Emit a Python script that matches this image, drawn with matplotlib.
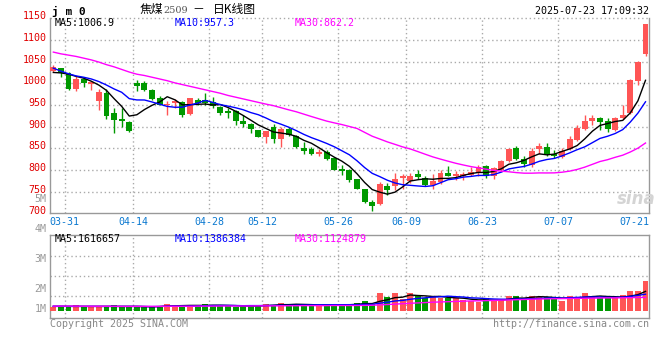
import matplotlib
matplotlib.use("Agg")
import matplotlib.pyplot as plt
from matplotlib.transforms import blended_transform_factory, offset_copy

# jm0 daily candles, 2025-03-28 .. 2025-07-23 (one entry per trading day)
opens = [1029, 1035, 1023, 987, 1011, 999, 960, 978, 932, 917,
         911, 1001, 1001, 984, 967, 949, 954, 958, 929, 961,
         961, 957, 946, 936, 936, 914, 907, 892, 877, 900,
         871, 894, 878, 851, 848, 837, 842, 828, 802, 800,
         779, 756, 727, 721, 764, 764, 781, 775, 791, 782,
         765, 773, 794, 785, 786, 788, 792, 808, 785, 800,
         821, 850, 825, 812, 848, 852, 836, 831, 848, 869,
         895, 912, 921, 914, 892, 919, 932, 1006, 1068]
highs = [1042, 1036, 1025, 1016, 1013, 1004, 988, 988, 944, 942,
         913, 1007, 1006, 988, 970, 959, 963, 960, 967, 967,
         977, 969, 948, 942, 938, 927, 909, 893, 891, 906,
         900, 900, 880, 865, 854, 848, 846, 830, 811, 802,
         780, 757, 731, 773, 769, 794, 791, 794, 800, 785,
         791, 800, 809, 798, 796, 808, 812, 812, 808, 823,
         850, 855, 832, 850, 863, 862, 846, 850, 878, 904,
         927, 928, 923, 919, 922, 950, 1010, 1052, 1138]
lows = [1025, 1015, 984, 983, 992, 985, 938, 917, 885, 900,
        888, 983, 982, 961, 949, 927, 944, 923, 927, 950,
        950, 942, 926, 919, 904, 900, 886, 876, 863, 863,
        852, 879, 851, 838, 834, 832, 824, 799, 788, 773,
        755, 724, 706, 719, 742, 754, 755, 770, 779, 762,
        757, 768, 785, 778, 777, 785, 785, 781, 779, 798,
        819, 822, 808, 808, 836, 832, 827, 827, 846, 868,
        892, 904, 892, 888, 891, 917, 929, 997, 1062]
closes = [1038, 1024, 986, 1010, 1001, 1003, 979, 925, 915, 912,
          891, 994, 985, 964, 950, 952, 959, 927, 965, 955,
          955, 948, 932, 931, 912, 906, 894, 877, 890, 871,
          894, 881, 852, 844, 837, 842, 825, 800, 798, 777,
          756, 725, 718, 768, 754, 779, 785, 786, 783, 765,
          774, 794, 787, 791, 791, 795, 808, 785, 804, 821,
          848, 825, 813, 844, 856, 837, 833, 844, 872, 896,
          914, 921, 911, 894, 919, 927, 1008, 1050, 1137]

ma5 = [1025, 1024, 1021, 1016, 1011.8, 1004.8, 995.8, 983.6, 964.6, 946.8,
       924.4, 927.4, 939.4, 949.2, 956.8, 969.0, 962.0, 950.4, 950.6, 951.6,
       952.2, 950.0, 951.0, 944.2, 935.6, 925.8, 915.0, 904.0, 895.8, 887.6,
       885.2, 882.6, 877.6, 868.4, 861.6, 851.2, 840.0, 829.6, 820.4, 808.4,
       791.2, 771.2, 754.8, 748.8, 744.2, 748.8, 760.8, 774.4, 777.4, 779.6,
       778.6, 780.4, 780.6, 782.2, 787.4, 791.6, 794.4, 794.0, 796.6, 802.6,
       813.2, 816.6, 822.2, 830.2, 837.2, 835.0, 836.6, 842.8, 848.4, 856.4,
       871.8, 889.4, 902.8, 907.2, 911.8, 914.4, 931.8, 959.6, 1006.9]
ma10 = [1035, 1028, 1022, 1017, 1014, 1010, 1004, 996, 987, 979.3,
        964.6, 961.6, 961.5, 956.9, 951.8, 946.7, 944.7, 944.9, 949.9, 954.2,
        960.6, 956.0, 950.7, 947.4, 943.6, 939.0, 932.5, 927.5, 920.0, 911.6,
        905.5, 898.8, 890.8, 882.1, 874.6, 868.2, 861.3, 853.6, 844.4, 835.0,
        821.2, 805.6, 792.2, 784.6, 776.3, 770.0, 766.0, 764.6, 763.1, 761.9,
        763.7, 770.6, 777.5, 779.8, 783.5, 785.1, 787.4, 787.3, 789.4, 795.0,
        802.4, 805.5, 808.1, 813.4, 819.9, 824.1, 826.6, 832.5, 839.3, 846.8,
        853.4, 863.0, 872.8, 877.8, 884.1, 893.1, 910.6, 931.2, 957.3]
ma30 = [1072, 1068, 1065, 1062, 1058, 1054, 1049, 1043, 1038, 1032,
        1026, 1021, 1018, 1014, 1010, 1006, 1001, 997, 993, 989,
        985, 981, 977, 972, 968, 964, 960, 956, 952, 948.4,
        943.6, 938.8, 934.3, 928.8, 923.3, 918.0, 912.8, 908.7, 904.8, 900.3,
        895.8, 886.8, 877.9, 871.4, 864.8, 859.1, 853.3, 848.6, 842.5, 836.2,
        830.1, 825.0, 820.2, 815.5, 811.5, 807.8, 804.9, 801.8, 799.0, 797.3,
        795.8, 793.9, 792.6, 792.6, 793.2, 793.1, 793.3, 794.8, 797.3, 801.2,
        806.5, 813.0, 819.5, 823.7, 829.2, 834.1, 841.5, 850.3, 862.2]

# volume in millions of lots
volumes = [0.35, 0.35, 0.43, 0.51, 0.35, 0.35, 0.35, 0.43, 0.51, 0.35,
           0.35, 0.35, 0.35, 0.43, 0.43, 0.59, 0.43, 0.43, 0.51, 0.43,
           0.59, 0.51, 0.43, 0.43, 0.35, 0.43, 0.51, 0.43, 0.59, 0.51,
           0.67, 0.51, 0.59, 0.51, 0.43, 0.51, 0.51, 0.55, 0.55, 0.55,
           0.67, 0.80, 0.57, 1.46, 1.20, 1.51, 1.00, 1.46, 1.24, 1.06,
           1.24, 1.06, 1.06, 1.06, 0.90, 0.84, 0.78, 1.08, 0.90, 0.90,
           1.24, 1.24, 1.08, 1.24, 1.14, 1.14, 1.00, 0.84, 1.24, 1.14,
           1.51, 1.24, 1.06, 1.06, 1.06, 1.33, 1.65, 1.65, 2.49]
vol_ma5 = [0.40, 0.40, 0.40, 0.40, 0.398, 0.398, 0.398, 0.398, 0.398, 0.398,
           0.398, 0.398, 0.382, 0.366, 0.382, 0.43, 0.446, 0.462, 0.478, 0.478,
           0.478, 0.494, 0.494, 0.478, 0.462, 0.43, 0.43, 0.43, 0.462, 0.494,
           0.542, 0.542, 0.574, 0.558, 0.542, 0.51, 0.51, 0.502, 0.51, 0.534,
           0.566, 0.624, 0.628, 0.81, 0.94, 1.108, 1.148, 1.326, 1.282, 1.254,
           1.2, 1.212, 1.132, 1.096, 1.064, 0.984, 0.928, 0.932, 0.9, 0.9,
           0.98, 1.072, 1.072, 1.14, 1.188, 1.168, 1.12, 1.072, 1.072, 1.072,
           1.146, 1.194, 1.238, 1.202, 1.186, 1.15, 1.232, 1.35, 1.617]
vol_ma10 = [0.41, 0.41, 0.40, 0.40, 0.40, 0.40, 0.40, 0.40, 0.40, 0.398,
            0.398, 0.398, 0.39, 0.382, 0.39, 0.414, 0.422, 0.422, 0.422, 0.43,
            0.454, 0.47, 0.478, 0.478, 0.47, 0.454, 0.462, 0.462, 0.47, 0.478,
            0.486, 0.486, 0.502, 0.51, 0.518, 0.526, 0.526, 0.538, 0.534, 0.538,
            0.538, 0.567, 0.565, 0.66, 0.737, 0.837, 0.886, 0.977, 1.046, 1.097,
            1.154, 1.18, 1.229, 1.189, 1.159, 1.092, 1.07, 1.032, 0.998, 0.982,
            0.982, 1.0, 1.002, 1.02, 1.044, 1.074, 1.096, 1.072, 1.106, 1.13,
            1.157, 1.157, 1.155, 1.137, 1.129, 1.148, 1.213, 1.294, 1.386]
vol_ma30 = [0.42, 0.42, 0.42, 0.42, 0.41, 0.41, 0.41, 0.41, 0.41, 0.40,
            0.40, 0.40, 0.40, 0.40, 0.40, 0.41, 0.41, 0.41, 0.41, 0.42,
            0.42, 0.42, 0.43, 0.43, 0.43, 0.43, 0.43, 0.44, 0.44, 0.44,
            0.45, 0.45, 0.45, 0.46, 0.46, 0.46, 0.46, 0.47, 0.47, 0.47,
            0.47, 0.48, 0.49, 0.52, 0.55, 0.58, 0.62, 0.65, 0.68, 0.71,
            0.74, 0.76, 0.78, 0.80, 0.82, 0.84, 0.85, 0.87, 0.88, 0.90,
            0.92, 0.94, 0.96, 0.98, 1.00, 1.01, 1.02, 1.03, 1.04, 1.05,
            1.06, 1.07, 1.08, 1.09, 1.09, 1.10, 1.11, 1.12, 1.125]

date_labels = ['03-31', '04-14', '04-28', '05-12', '05-26', '06-09', '06-23', '07-07', '07-21']
date_pos = [1, 10, 20, 27, 37, 46, 56, 66, 76]
price_ticks = [1150, 1100, 1050, 1000, 950, 900, 850, 800, 750, 700]
vol_tick_labels = ['1M', '2M', '3M', '4M', '5M']
vol_tick_pos = [0.05, 1.68, 4.11, 6.55, 8.99]
vol_grid = [1.27, 2.89, 4.52]

W, H = 660, 360
RED = '#ff5555'
GREEN = '#009900'
GRID = '#aaaaaa'
AXIS = '#999999'
MONO = 'DejaVu Sans Mono'
CJK = ['Noto Sans CJK SC', 'DejaVu Sans']
DOT = (0, (1, 2))

plt.rcParams['font.family'] = [MONO, 'Noto Sans CJK SC']


def px(x0, y0, x1, y1):
    return [x0 / W, 1 - y1 / H, (x1 - x0) / W, (y1 - y0) / H]


fig = plt.figure(figsize=(6.6, 3.6), dpi=100)
fig.patch.set_facecolor('white')
ax = fig.add_axes(px(50.3, 18.3, 649.3, 213.3))
axv = fig.add_axes(px(50.3, 234.5, 649.3, 318))

n = len(closes)
idx = list(range(n))
colors = [RED if c >= o else GREEN for o, c in zip(opens, closes)]

# --- price panel
ax.vlines(idx, lows, highs, colors=colors, linewidth=1, zorder=3)
ax.bar(idx, [max(abs(c - o), 1.2) for o, c in zip(opens, closes)],
       bottom=[min(o, c) for o, c in zip(opens, closes)],
       width=0.78, color=colors, linewidth=0, zorder=4)
ax.plot(idx, ma5, color='black', lw=1, zorder=5)
ax.plot(idx, ma10, color='#0000ff', lw=1, zorder=5)
ax.plot(idx, ma30, color='#ff00ff', lw=1, zorder=5)

ax.set_xlim(-0.4, 78.5)
ax.set_ylim(700, 1150)
for p in price_ticks[:-1]:
    ax.axhline(p, color=GRID, lw=1, linestyle=DOT, zorder=1, clip_on=False)
for d in date_pos[:-1]:
    ax.axvline(d + 0.5, color=GRID, lw=1, linestyle=DOT, zorder=1)

# --- volume panel
axv.bar(idx, volumes, width=0.78, color=colors, linewidth=0, zorder=3)
axv.plot(idx, vol_ma5, color='black', lw=1, zorder=5)
axv.plot(idx, vol_ma10, color='#0000ff', lw=1, zorder=5)
axv.plot(idx, vol_ma30, color='#ff00ff', lw=1, zorder=5)
axv.set_xlim(-0.4, 78.5)
axv.set_ylim(-0.545, 6.24)
for v in vol_grid:
    axv.axhline(v, color=GRID, lw=1, linestyle=DOT, zorder=1)
for d in date_pos[:-1]:
    axv.axvline(d + 0.5, color=GRID, lw=1, linestyle=DOT, zorder=1)

for a in (ax, axv):
    a.set_xticks([])
    a.set_yticks([])
    for s in a.spines.values():
        s.set_color(AXIS)
        s.set_linewidth(1)
ax.spines['top'].set_visible(False)

# axis labels
tr = offset_copy(blended_transform_factory(ax.transAxes, ax.transData), fig=fig, x=-4, y=-1, units='dots')
for p in price_ticks:
    ax.text(0, p, str(p), transform=tr, ha='right', va='baseline',
            color='#e00000', fontsize=7.2, family=MONO)
trd = offset_copy(ax.transData, fig=fig, x=0, y=-8.5, units='dots')
for d, lab in zip(date_pos, date_labels):
    ax.text(d + 0.5, 700, lab, transform=trd, ha='center', va='center',
            color='#0a78d0', fontsize=7.2, family=MONO)
trv = offset_copy(blended_transform_factory(axv.transAxes, axv.transData), fig=fig, x=-4, y=-1, units='dots')
for v, lab in zip(vol_tick_pos, vol_tick_labels):
    axv.text(0, v, lab, transform=trv, ha='right', va='baseline',
             color='#999999', fontsize=7.2, family=MONO)

# header texts
def ftext(x, y, s, **kw):
    fig.text(x / W, 1 - y / H, s, **kw)

ftext(52, 11.5, 'j m 0', fontsize=8, weight='bold', family=MONO, va='center')
ftext(140, 10, '焦煤', fontsize=8.5, family=CJK, va='center')
ftext(163.5, 10.5, '2509', fontsize=7, family='DejaVu Serif', color='#555555', va='center')
ftext(192, 10, '－', fontsize=8.5, family=CJK, va='center')
ftext(213, 10, '日K线图', fontsize=8.5, family=CJK, va='center')
ftext(649, 11.2, '2025-07-23 17:09:32', fontsize=7.2, family=MONO, ha='right', va='center')

ftext(55, 23.5, 'MA5:1006.9', fontsize=7.2, family=MONO, color='black', va='center')
ftext(175, 23.5, 'MA10:957.3', fontsize=7.2, family=MONO, color='#0000ff', va='center')
ftext(295, 23.5, 'MA30:862.2', fontsize=7.2, family=MONO, color='#ff00ff', va='center')
ftext(55, 238.5, 'MA5:1616657', fontsize=7.2, family=MONO, color='black', va='center')
ftext(175, 238.5, 'MA10:1386384', fontsize=7.2, family=MONO, color='#0000ff', va='center')
ftext(295, 238.5, 'MA30:1124879', fontsize=7.2, family=MONO, color='#ff00ff', va='center')

ftext(636, 199, 'sina', fontsize=12, style='italic', weight='bold', color='#d4d4d4',
      family='DejaVu Sans', ha='center', va='center')
ftext(50, 324, 'Copyright 2025 SINA.COM', fontsize=7.2, family=MONO, color='#888888', va='center')
ftext(649, 324, 'http://finance.sina.com.cn', fontsize=7.2, family=MONO, color='#888888',
      ha='right', va='center')

fig.savefig('out.png', dpi=100)
